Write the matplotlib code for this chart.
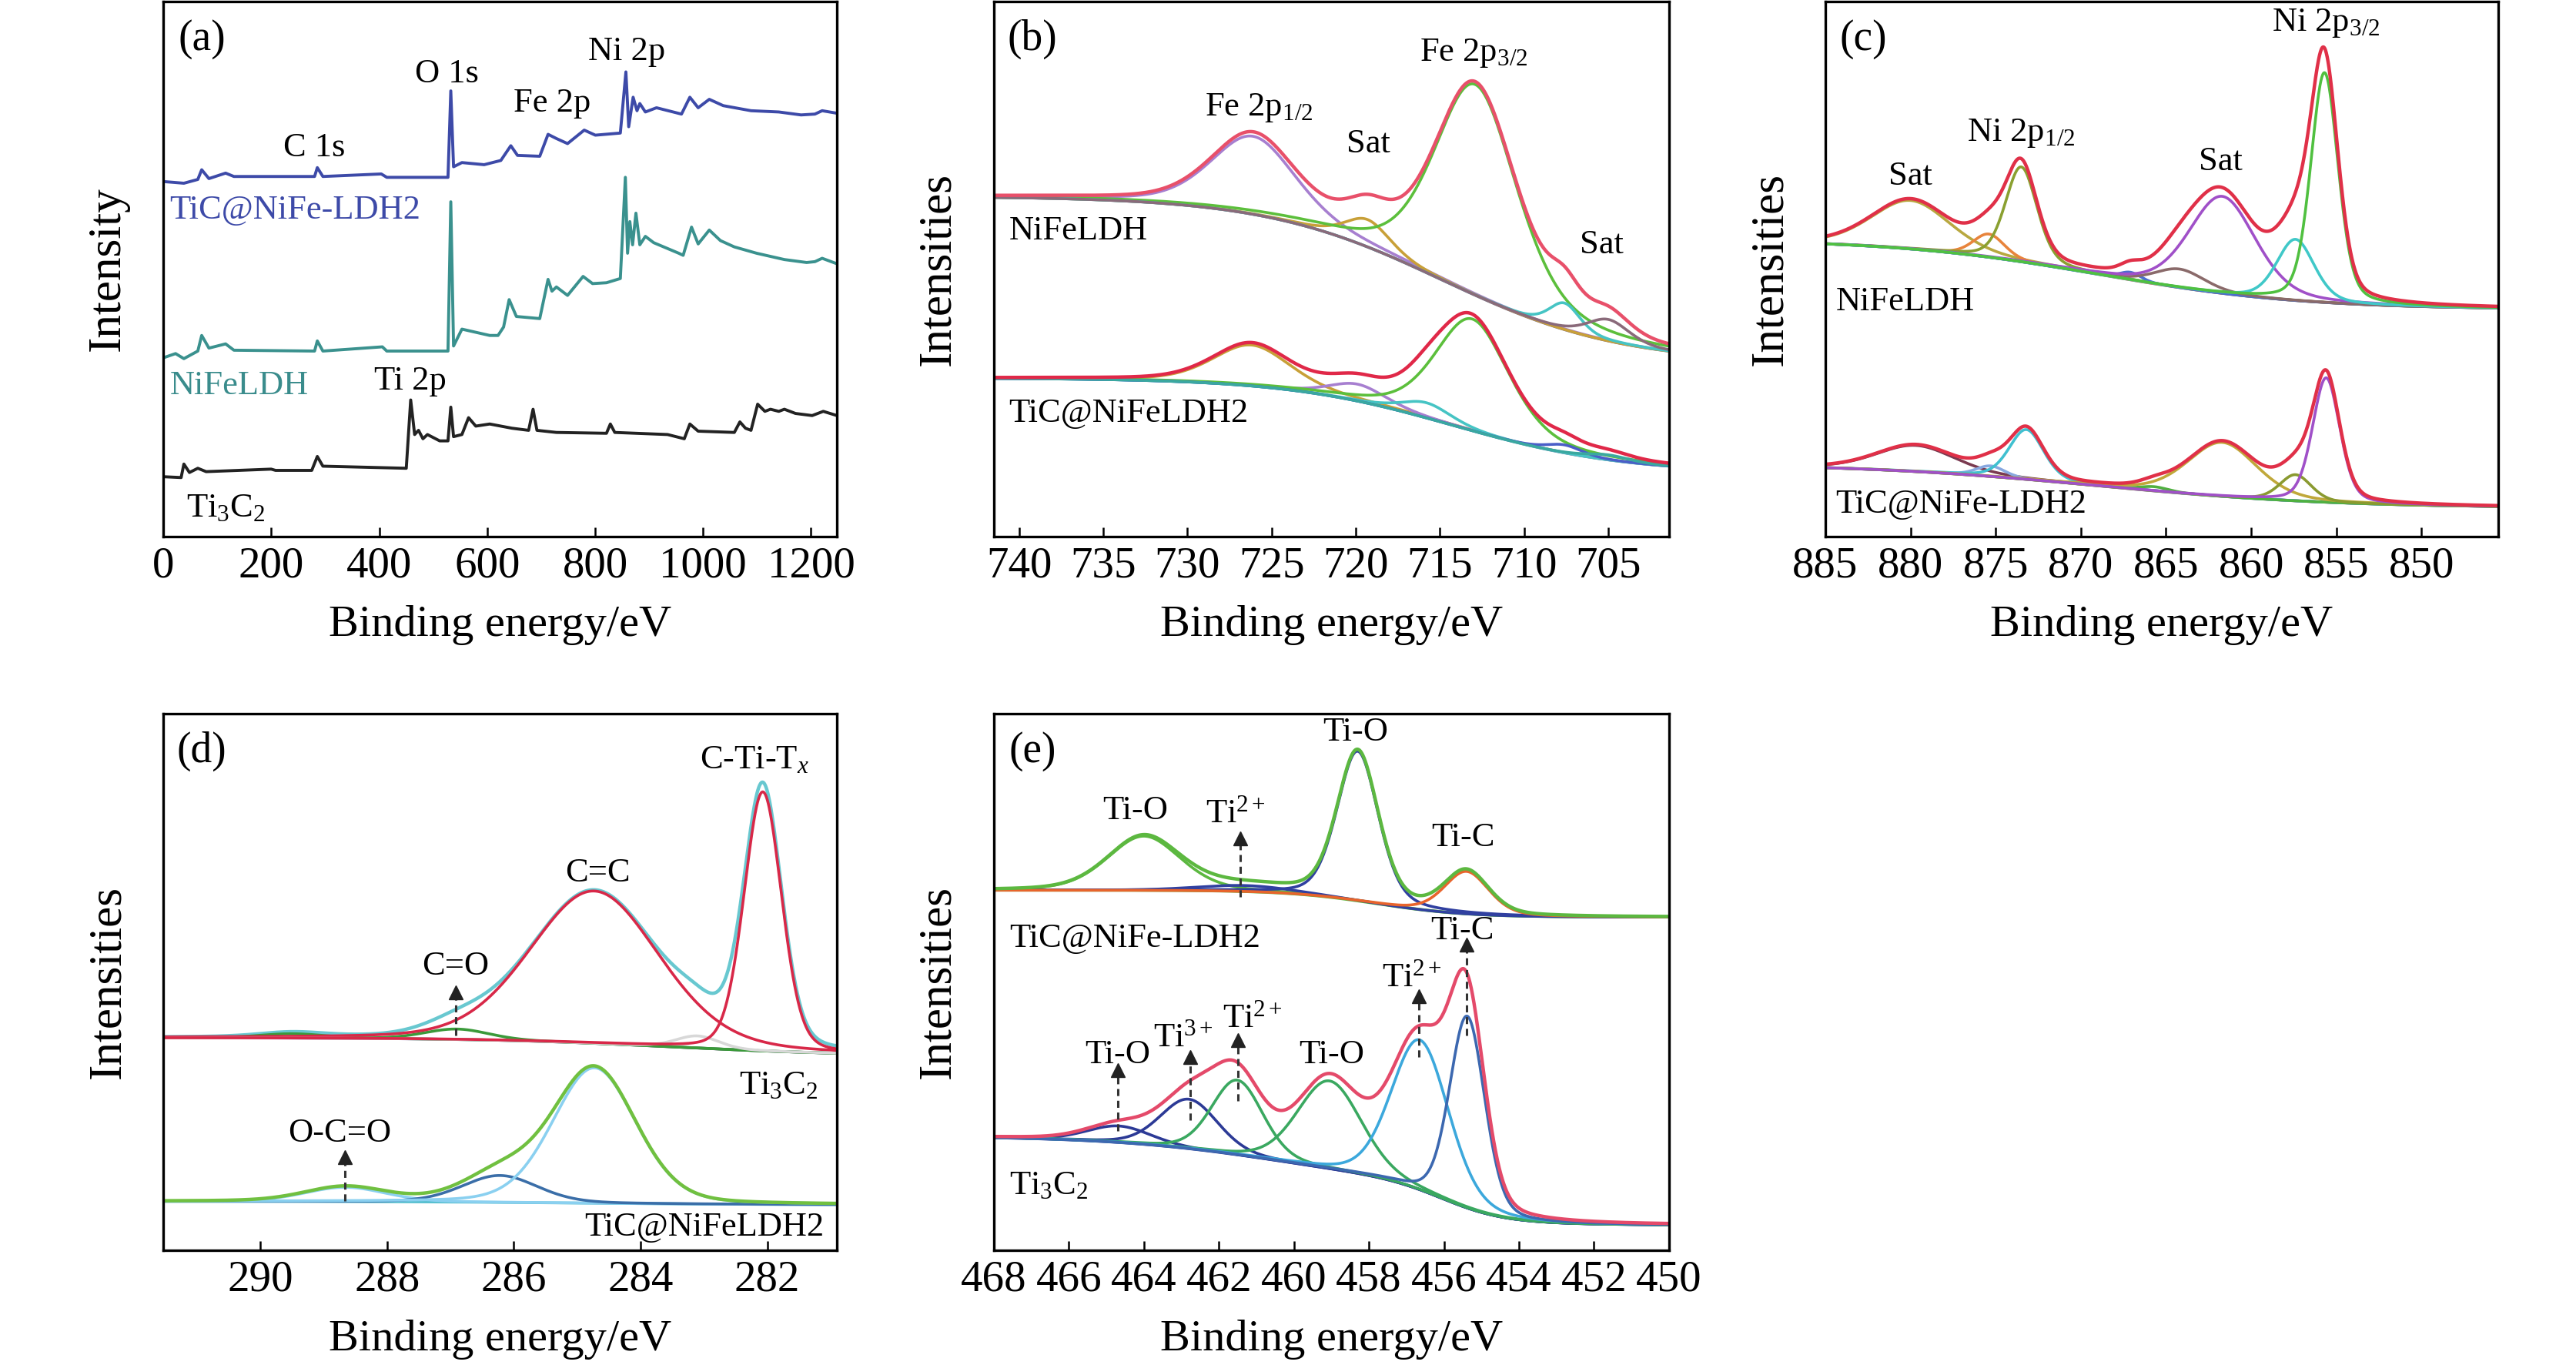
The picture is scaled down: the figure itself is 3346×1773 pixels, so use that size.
import matplotlib
matplotlib.use("Agg")
import matplotlib.pyplot as plt
import numpy as np

plt.rcParams["font.family"] = ["Liberation Serif", "DejaVu Serif"]
plt.rcParams["mathtext.fontset"] = "custom"
plt.rcParams["mathtext.rm"] = "Liberation Serif"
plt.rcParams["mathtext.it"] = "Liberation Serif:italic"
plt.rcParams["mathtext.bf"] = "Liberation Serif:bold"

# ---- (a) survey spectra: binding energy (eV) / intensity (a.u.) ----
SURVEY_E_TIC = [0, 19.6, 38.1, 63.9, 71.1, 84.5, 115.4, 130.8, 280.2, 285.3, 295.6, 403.8, 414,
                527.4, 532.6, 537.7, 553.2, 594.4, 625.3, 643.8, 656.2, 697.4, 712.8, 728.3, 748.9,
                779.8, 800.4, 846.7, 857, 862.2, 870.4, 877.6, 882.8, 893.1, 913.7, 960, 975.5,
                990.9, 1011.5, 1037.3, 1088.8, 1140.3, 1181.5, 1207.2, 1220.6, 1248]
SURVEY_I_TIC = [842, 840, 838, 847, 870, 849, 862, 854, 854, 875, 854, 860, 852,
                852, 1057, 877, 887, 882, 892, 927, 904, 902, 954, 944, 932,
                964, 952, 957, 1102, 972, 1042, 1010, 1027, 1007, 1017, 1002, 1042,
                1017, 1037, 1022, 1010, 1007, 1000, 1002, 1010, 1004]

SURVEY_E_LDH = [0, 22.7, 38.1, 63.9, 71.1, 84.5, 115.4, 130.8, 280.2, 285.3, 295.6, 405.8, 414,
                527.4, 532.6, 537.7, 553.2, 604.7, 620.1, 630.4, 640.7, 654.1, 697.4, 712.8, 720,
                728.3, 748.9, 777.7, 795.2, 821, 846.7, 856, 860.1, 864.3, 869.4, 875.6, 882.8,
                893.1, 908.5, 954.9, 963.1, 978.6, 990.9, 1011.5, 1032.1, 1057.9, 1099.1, 1150.6,
                1191.8, 1207.2, 1220.6, 1248]
SURVEY_I_LDH = [424, 434, 422, 440, 477, 447, 457, 442, 440, 464, 440, 450, 440,
                440, 794, 452, 492, 477, 477, 497, 562, 522, 517, 610, 582,
                592, 572, 617, 600, 602, 612, 852, 672, 747, 692, 767, 692,
                712, 697, 672, 667, 734, 694, 727, 702, 687, 672, 657,
                650, 652, 660, 647]

SURVEY_E_TI3C2 = [0, 33, 38.1, 48.4, 63.9, 79.3, 199.8, 208, 275, 285.3, 295.6, 450.1, 458.3,
                  465.6, 472.8, 481, 489.3, 512, 527.4, 532.6, 537.7, 553.2, 565.5, 578.9, 604.7,
                  645.9, 676.8, 685, 692.2, 728.3, 821, 828.2, 836.4, 934.3, 965.2, 975.5, 990.9,
                  1057.9, 1068.2, 1078.5, 1088.8, 1101.1, 1114.5, 1124.8, 1140.3, 1150.6, 1171.2,
                  1202.1, 1222.7, 1248]
SURVEY_I_TI3C2 = [142, 140, 172, 152, 162, 154, 160, 157, 157, 190, 167, 162, 324,
                  242, 252, 232, 242, 227, 227, 307, 237, 242, 282, 262, 267,
                  257, 252, 302, 252, 247, 245, 267, 247, 242, 232, 267, 250,
                  247, 272, 257, 252, 314, 297, 302, 297, 302, 292,
                  287, 297, 287]

# ---- fitted components: centre (eV), height (a.u.), FWHM (eV); background = low + sigmoid steps ----
# (b) Fe 2p, NiFeLDH
FE_LDH_BG_LOW = 411
FE_LDH_BG_STEPS = [(714.9, 396, 5.3)]
FE_LDH_CENTER = [726.1, 719.3, 712.9, 707.6, 705.0]
FE_LDH_HEIGHT = [185, 65, 500, 63, 51]
FE_LDH_FWHM = [6.0, 3.2, 5.8, 2.2, 3.0]
# (b) Fe 2p, TiC@NiFeLDH2
FE_TIC_BG_LOW = 151
FE_TIC_BG_STEPS = [(714.2, 225, 5.0)]
FE_TIC_CENTER = [726.2, 719.9, 715.8, 713.1, 707.6, 705.0]
FE_TIC_HEIGHT = [97, 40, 36, 265, 19, 12]
FE_TIC_FWHM = [5.5, 4.0, 3.5, 5.2, 2.5, 3.0]

# (c) Ni 2p, NiFeLDH
NI_LDH_BG_LOW = 539
NI_LDH_BG_STEPS = [(869.0, 166, 6.0)]
NI_LDH_CENTER = [880.0, 875.4, 873.5, 867.1, 864.2, 861.7, 857.4, 855.7]
NI_LDH_HEIGHT = [115, 55, 225, 18, 44, 230, 145, 545]
NI_LDH_FWHM = [5.5, 2.2, 2.2, 1.5, 3.5, 4.6, 2.6, 1.9]
# (c) Ni 2p, TiC@NiFe-LDH2
NI_TIC_BG_LOW = 68
NI_TIC_BG_STEPS = [(869.0, 105, 7.0)]
NI_TIC_CENTER = [879.7, 875.3, 873.2, 865.7, 861.7, 857.4, 855.6]
NI_TIC_HEIGHT = [62, 25, 118, 10, 128, 62, 295]
NI_TIC_FWHM = [5.5, 2.0, 2.4, 2.0, 4.8, 2.2, 1.9]

# (d) C 1s, Ti3C2
C_TI3C2_BG_LOW = 448
C_TI3C2_BG_STEPS = [(283.5, 42, 1.5)]
C_TI3C2_CENTER = [289.5, 286.9, 284.73, 283.1, 282.07]
C_TI3C2_HEIGHT = [10, 24, 351, 28, 597]
C_TI3C2_FWHM = [1.2, 1.2, 2.4, 0.8, 0.7]
# (d) C 1s, TiC@NiFeLDH2
C_TIC_BG_LOW = 105
C_TIC_BG_STEPS = [(285.0, 8, 1.5)]
C_TIC_CENTER = [288.66, 286.22, 284.73]
C_TIC_HEIGHT = [33, 62, 312]
C_TIC_FWHM = [1.5, 1.4, 1.55]

# (e) Ti 2p, TiC@NiFe-LDH2
TI_TIC_BG_LOW = 768
TI_TIC_BG_STEPS = [(457.8, 62, 1.2)]
TI_TIC_CENTER = [464.0, 461.3, 458.3, 455.4]
TI_TIC_HEIGHT = [125, 14, 345, 98]
TI_TIC_FWHM = [2.3, 3.0, 1.3, 1.4]
# (e) Ti 2p, Ti3C2
TI_TI3C2_BG_LOW = 58
TI_TI3C2_BG_STEPS = [(456.0, 95, 0.8), (460.5, 110, 2.2)]
TI_TI3C2_CENTER = [464.66, 462.8, 461.51, 459.05, 456.64, 455.38]
TI_TI3C2_HEIGHT = [38, 114, 172, 202, 345, 442]
TI_TI3C2_FWHM = [2.0, 1.8, 1.6, 2.0, 1.8, 1.1]

LABEL_FS = 32
XLABEL = "Binding energy/eV"
LW_COMP = 2.6
LW_ENV = 3.2


def pseudo_voigt(e, center, height, fwhm, eta):
    x = (e - center) / fwhm
    return height * (eta / (1 + 4 * x ** 2) + (1 - eta) * np.exp(-4 * np.log(2) * x ** 2))


def background(e, low, steps):
    out = np.full_like(e, float(low))
    for c, h, w in steps:
        out += h / (1 + np.exp(-(e - c) / w))
    return out


def draw_fit(ax, e, low, steps, centers, heights, fwhms, eta, colors, env_color, bg_color,
             env_on_top=True):
    base = background(e, low, steps)
    ax.plot(e, base, color=bg_color, lw=LW_COMP)
    comps = [pseudo_voigt(e, c, h, w, eta) for c, h, w in zip(centers, heights, fwhms)]
    total = base + np.sum(comps, axis=0)
    if not env_on_top:
        ax.plot(e, total, color=env_color, lw=LW_ENV)
    for p, col in zip(comps, colors):
        ax.plot(e, base + p, color=col, lw=LW_COMP)
    if env_on_top:
        ax.plot(e, total, color=env_color, lw=LW_ENV)


def style_axes(ax, xlim, ticks, ylim, ylabel, letter):
    ax.set_xlim(*xlim)
    ax.set_ylim(*ylim)
    ax.set_xticks(ticks)
    ax.set_yticks([])
    ax.tick_params(axis="x", direction="in", length=8.6, width=1.8, labelsize=41, pad=9)
    for s in ax.spines.values():
        s.set_linewidth(2.4)
    ax.set_xlabel(XLABEL, fontsize=42, labelpad=18)
    ax.set_ylabel(ylabel, fontsize=44, va="center")
    ax.yaxis.set_label_coords(-0.082, 0.5)
    ax.text(0.057, 0.93, letter, transform=ax.transAxes, fontsize=40, ha="center", va="center")


def label(ax, x, y, s, ha="center", color="black"):
    ax.text(x, y, s, fontsize=LABEL_FS, ha=ha, va="center", color=color)


def arrow(ax, x, y0, y1):
    ax.plot([x, x], [y0, y1], color="#333333", lw=2.2, ls=(0, (3, 2)))
    ax.plot([x], [y1], marker="^", ms=13, color="#222222", mec="#222222")


fig = plt.figure(figsize=(33.46, 17.73), dpi=100)
ax_a = fig.add_axes([0.0634, 0.6069, 0.2615, 0.392])
ax_b = fig.add_axes([0.3858, 0.6069, 0.2621, 0.392])
ax_c = fig.add_axes([0.7086, 0.6069, 0.2612, 0.392])
ax_d = fig.add_axes([0.0634, 0.0840, 0.2615, 0.3932])
ax_e = fig.add_axes([0.3858, 0.0840, 0.2621, 0.3932])

# (a) survey
ax_a.plot(SURVEY_E_TIC, SURVEY_I_TIC, color="#3d4aa8", lw=2.8)
ax_a.plot(SURVEY_E_LDH, SURVEY_I_LDH, color="#3a918e", lw=2.8)
ax_a.plot(SURVEY_E_TI3C2, SURVEY_I_TI3C2, color="#222222", lw=2.8)
style_axes(ax_a, (0, 1248), range(0, 1201, 200), (0, 1269), "Intensity", "(a)")
label(ax_a, 280, 922, "C 1s")
label(ax_a, 525, 1097, "O 1s")
label(ax_a, 720, 1027, "Fe 2p")
label(ax_a, 859, 1150, "Ni 2p")
label(ax_a, 12, 775, "TiC@NiFe-LDH2", ha="left", color="#3d4aa8")
label(ax_a, 12, 357, "NiFeLDH", ha="left", color="#3a8c8c")
label(ax_a, 458, 369, "Ti 2p")
label(ax_a, 43, 67, "Ti$_3$C$_2$", ha="left")

# (b) Fe 2p
e_b = np.linspace(741.5, 701.4, 1500)
draw_fit(ax_b, e_b, FE_LDH_BG_LOW, FE_LDH_BG_STEPS, FE_LDH_CENTER, FE_LDH_HEIGHT, FE_LDH_FWHM, 0.4,
         ["#a77fd0", "#c8a038", "#5cbf3c", "#46c4c4", "#8a6a7a"], "#e8506a", "#7a6a8a")
draw_fit(ax_b, e_b, FE_TIC_BG_LOW, FE_TIC_BG_STEPS, FE_TIC_CENTER, FE_TIC_HEIGHT, FE_TIC_FWHM, 0.4,
         ["#c8a038", "#a77fd0", "#46c4c4", "#5cbf3c", "#4a5ec8", "#3aa8a0"], "#e02848", "#46b8c0")
style_axes(ax_b, (741.5, 701.4), range(740, 704, -5), (0, 1269), "Intensities", "(b)")
label(ax_b, 725.75, 1017, "Fe 2p$_{1/2}$")
label(ax_b, 719.25, 932, "Sat")
label(ax_b, 713.0, 1147, "Fe 2p$_{3/2}$")
label(ax_b, 705.4, 692, "Sat")
label(ax_b, 740.6, 724, "NiFeLDH", ha="left")
label(ax_b, 740.6, 292, "TiC@NiFeLDH2", ha="left")

# (c) Ni 2p
e_c = np.linspace(885, 845.5, 1500)
draw_fit(ax_c, e_c, NI_LDH_BG_LOW, NI_LDH_BG_STEPS, NI_LDH_CENTER, NI_LDH_HEIGHT, NI_LDH_FWHM, 0.3,
         ["#b8a840", "#e8843c", "#8aa030", "#4a6ed0", "#8a6a6a", "#a050c8", "#40c8c8", "#50c040"],
         "#e03048", "#7a86c8")
draw_fit(ax_c, e_c, NI_TIC_BG_LOW, NI_TIC_BG_STEPS, NI_TIC_CENTER, NI_TIC_HEIGHT, NI_TIC_FWHM, 0.3,
         ["#7a3a50", "#88a8e0", "#40c0d0", "#50b040", "#c0a83a", "#8a9a30", "#a050c8"],
         "#e03048", "#d07aa0")
style_axes(ax_c, (885, 845.5), range(885, 849, -5), (0, 1269), "Intensities", "(c)")
label(ax_c, 855.6, 1217, "Ni 2p$_{3/2}$")
label(ax_c, 873.5, 957, "Ni 2p$_{1/2}$")
label(ax_c, 880.0, 854, "Sat")
label(ax_c, 861.8, 889, "Sat")
label(ax_c, 884.4, 557, "NiFeLDH", ha="left")
label(ax_c, 884.4, 77, "TiC@NiFe-LDH2", ha="left")

# (d) C 1s
e_d = np.linspace(291.53, 280.9, 1500)
draw_fit(ax_d, e_d, C_TI3C2_BG_LOW, C_TI3C2_BG_STEPS, C_TI3C2_CENTER, C_TI3C2_HEIGHT, C_TI3C2_FWHM, 0.2,
         ["#3a9a3a", "#3a9a3a", "#d82848", "#d8d8d8", "#d82848"], "#68c8d0", "#9050b0",
         env_on_top=False)
draw_fit(ax_d, e_d, C_TIC_BG_LOW, C_TIC_BG_STEPS, C_TIC_CENTER, C_TIC_HEIGHT, C_TIC_FWHM, 0.2,
         ["#8ad0f0", "#3a6ea8", "#8ad0f0"], "#70c040", "#58c0d0")
style_axes(ax_d, (291.53, 280.9), range(290, 281, -2), (0, 1237), "Intensities", "(d)")
label(ax_d, 282.2, 1130, "C-Ti-T$_{x}$")
label(ax_d, 284.67, 870, "C=C")
label(ax_d, 286.92, 655, "C=O")
label(ax_d, 281.82, 380, "Ti$_3$C$_2$")
label(ax_d, 288.75, 270, "O-C=O")
label(ax_d, 281.1, 53, "TiC@NiFeLDH2", ha="right")
arrow(ax_d, 286.92, 495, 595)
arrow(ax_d, 288.66, 113, 215)

# (e) Ti 2p
e_e = np.linspace(468, 450, 1500)
draw_fit(ax_e, e_e, TI_TIC_BG_LOW, TI_TIC_BG_STEPS, TI_TIC_CENTER, TI_TIC_HEIGHT, TI_TIC_FWHM, 0.3,
         ["#5cb840", "#3040a0", "#3040a0", "#e8642c"], "#5cb840", "#5cb840")
draw_fit(ax_e, e_e, TI_TI3C2_BG_LOW, TI_TI3C2_BG_STEPS, TI_TI3C2_CENTER, TI_TI3C2_HEIGHT, TI_TI3C2_FWHM,
         0.2, ["#2c3a96", "#2c3a96", "#3aa860", "#3aa860", "#3ca8dc", "#3c68b0"], "#e44a6a", "#2c3a96")
style_axes(ax_e, (468, 450), range(468, 449, -2), (0, 1237), "Intensities", "(e)")
label(ax_e, 458.35, 1195, "Ti-O")
label(ax_e, 464.22, 1013, "Ti-O")
label(ax_e, 461.56, 1005, "Ti$^{2+}$")
label(ax_e, 455.48, 952, "Ti-C")
label(ax_e, 467.58, 718, "TiC@NiFe-LDH2", ha="left")
label(ax_e, 455.5, 737, "Ti-C")
label(ax_e, 456.86, 628, "Ti$^{2+}$")
label(ax_e, 461.1, 533, "Ti$^{2+}$")
label(ax_e, 462.95, 490, "Ti$^{3+}$")
label(ax_e, 464.7, 450, "Ti-O")
label(ax_e, 459.0, 450, "Ti-O")
label(ax_e, 467.58, 150, "Ti$_3$C$_2$", ha="left")
arrow(ax_e, 461.43, 815, 950)
arrow(ax_e, 455.4, 495, 705)
arrow(ax_e, 456.67, 445, 585)
arrow(ax_e, 461.5, 345, 485)
arrow(ax_e, 462.77, 300, 445)
arrow(ax_e, 464.69, 275, 415)

fig.savefig("out.png", dpi=100, facecolor="white")
